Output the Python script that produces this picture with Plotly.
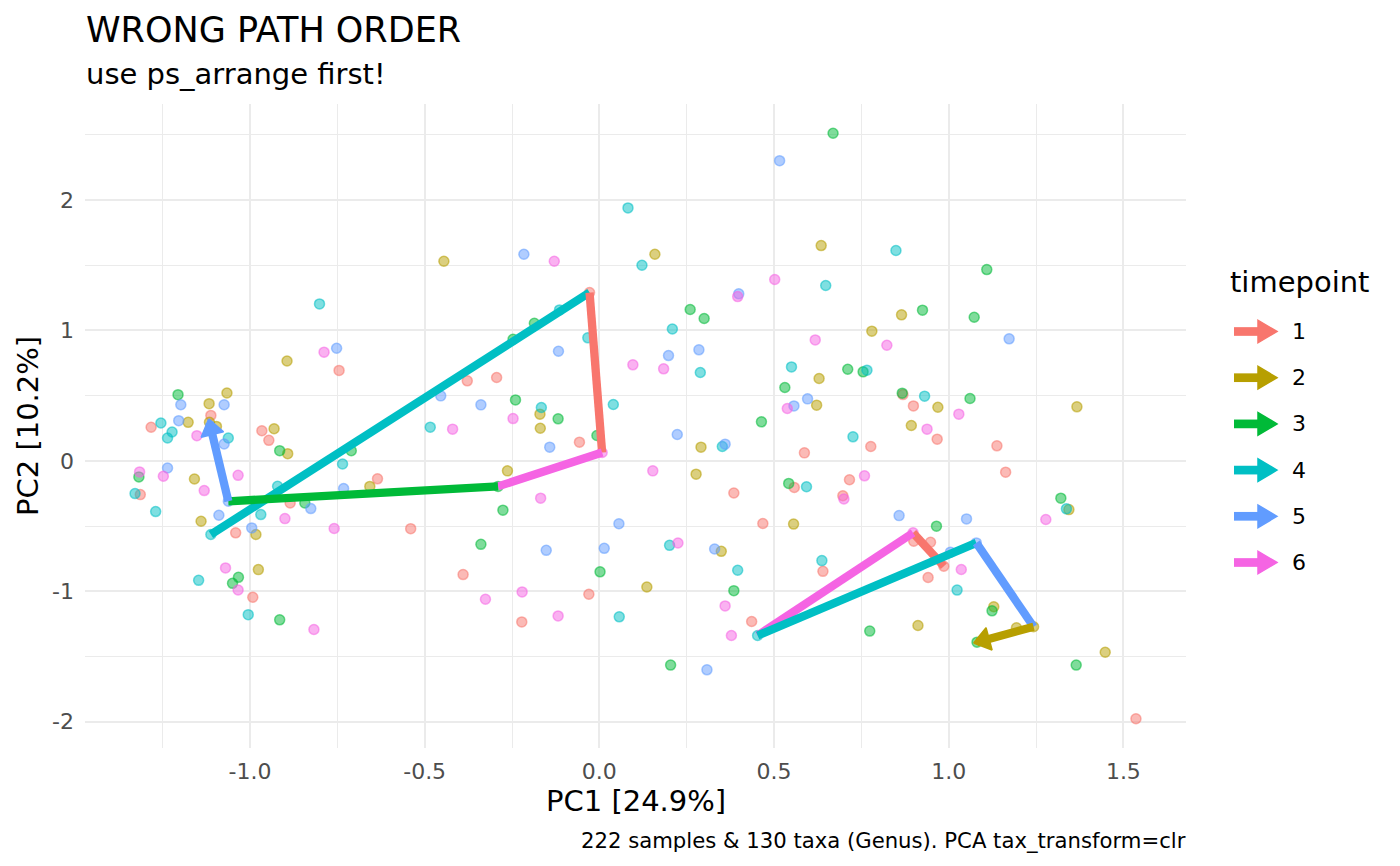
import plotly.graph_objects as go
import numpy as np

# ---------------- data ----------------
timepoints = [1, 2, 3, 4, 5, 6]
tp_colors = ["#F8766D", "#B79F00", "#00BA38", "#00BFC4", "#619CFF", "#F564E3"]

tp1_x = [-1.112, -1.283, -0.966, -0.946, -0.745, -1.314, -1.041, -0.885, -0.992, -0.635,
         -0.540, -0.378, -0.294, -0.057, -0.028, -0.390, -0.222, -0.030, 0.587, 0.777,
         0.869, 0.899, 0.967, 1.138, 0.558, 0.385, 0.468, 0.716, 0.697, 1.163,
         0.900, 0.948, 0.986, 0.941, 0.640, 0.436, 1.536]
tp1_y = [0.348, 0.257, 0.231, 0.157, 0.693, -0.259, -0.552, -0.323, -1.046, -0.138,
         -0.520, 0.613, 0.639, 0.143, 1.290, -0.872, -1.235, -1.023, 0.061, 0.110,
         0.508, 0.421, 0.166, 0.115, -0.204, -0.247, -0.480, -0.145, -0.268, -0.087,
         -0.616, -0.624, -0.808, -0.894, -0.847, -1.232, -1.977]

tp2_x = [-0.445, -0.894, -1.066, -1.117, -1.177, -1.116, -1.096, -0.931, -0.892, -1.159,
         -1.140, -0.983, -0.976, -0.657, -0.170, -0.169, -0.263, 0.159, 0.635, 0.865,
         0.780, 0.629, 0.622, 0.969, 1.367, 0.893, 0.291, 0.277, 0.556, 0.349,
         0.136, 1.129, 0.912, 1.194, 1.243, 1.344, 1.448]
tp2_y = [1.530, 0.765, 0.520, 0.438, 0.295, 0.295, 0.264, 0.246, 0.055, -0.139,
         -0.463, -0.565, -0.834, -0.196, 0.358, 0.250, -0.077, 1.584, 1.650, 1.119,
         0.994, 0.631, 0.427, 0.411, 0.414, 0.271, 0.105, -0.102, -0.485, -0.694,
         -0.967, -1.119, -1.262, -1.280, -1.272, -0.374, -1.467]

tp3_x = [-1.206, -0.915, -0.710, -1.318, -0.843, -1.033, -1.050, -0.915, -0.186, -0.247,
         -0.240, -0.118, -0.007, -0.290, -0.276, -0.339, 0.002, 0.669, 1.109, 0.260,
         0.300, 0.925, 1.073, 0.711, 0.755, 0.531, 0.867, 1.061, 0.464, 0.542,
         0.965, 1.321, 0.385, 1.124, 0.774, 1.365, 0.204, 1.081]
tp3_y = [0.507, 0.078, 0.077, -0.123, -0.323, -0.893, -0.939, -1.219, 1.055, 0.932,
         0.467, 0.322, 0.194, -0.196, -0.378, -0.640, -0.851, 2.511, 1.466, 1.160,
         1.091, 1.155, 1.101, 0.702, 0.682, 0.562, 0.519, 0.478, 0.299, -0.173,
         -0.501, -0.286, -0.995, -1.150, -1.305, -1.566, -1.566, -1.390]

tp4_x = [-0.801, 0.082, 0.122, -0.114, -0.033, 0.040, -0.166, -0.484, -1.255, -1.223,
         -1.236, -1.062, -1.329, -1.270, -1.112, -0.921, -0.969, -0.735, -1.147, -1.005,
         0.057, 0.849, 0.648, 0.209, 0.289, 0.550, 0.766, 0.931, 0.352, 0.726,
         0.593, 1.337, 0.201, 0.637, 0.396, 1.024, 0.453]
tp4_y = [1.203, 1.939, 1.499, 1.157, 0.943, 0.432, 0.409, 0.258, 0.290, 0.221,
         0.175, 0.175, -0.251, -0.389, -0.565, -0.195, -0.412, -0.024, -0.916, -1.179,
         -1.196, 1.612, 1.344, 1.011, 0.677, 0.720, 0.695, 0.496, 0.110, 0.184,
         -0.199, -0.368, -0.648, -0.765, -0.839, -0.991, -1.339]

tp5_x = [-0.216, -0.752, -0.117, -0.454, -0.339, -0.142, -1.198, -1.074, -1.204, -1.074,
         -1.236, -1.062, -1.089, -0.995, -0.826, -0.732, -0.152, 0.056, 0.014, 0.516,
         0.399, 1.173, 0.198, 0.285, 0.596, 0.557, 0.223, 0.360, 0.330, 0.858,
         1.051, 1.005, 1.079, 0.308]
tp5_y = [1.584, 0.863, 0.840, 0.498, 0.429, 0.105, 0.430, 0.430, 0.308, 0.129,
         -0.055, -0.310, -0.417, -0.514, -0.366, -0.213, -0.686, -0.482, -0.671, 2.301,
         1.280, 0.935, 0.807, 0.851, 0.475, 0.421, 0.202, 0.128, -0.676, -0.420,
         -0.445, -0.700, -0.629, -1.602]

tp6_x = [-0.129, -0.788, 0.096, -0.247, -0.420, -1.152, -1.316, -1.248, -1.131, -1.034,
         -0.900, -0.759, 0.008, -0.168, -1.070, -1.034, -0.817, -0.326, -0.221, -0.118,
         0.502, 0.396, 0.618, 0.823, 0.184, 0.538, 1.029, 0.938, 0.153, 0.700,
         0.759, 1.278, 0.225, 1.036, 0.360, 0.378, 0.898]
tp6_y = [1.530, 0.833, 0.736, 0.324, 0.243, 0.193, -0.085, -0.118, -0.228, -0.111,
         -0.443, -0.519, 0.064, -0.286, -0.821, -0.990, -1.293, -1.061, -1.005, -1.189,
         1.390, 1.259, 0.927, 0.886, 0.705, 0.401, 0.358, 0.243, -0.077, -0.293,
         -0.115, -0.450, -0.630, -0.833, -1.112, -1.339, -0.552]

# two subjects' paths, in (wrong) sample order
path_a_tp = [4, 1, 6, 3, 5, 2]
path_a_x = [-1.112, -0.028, 0.008, -0.290, -1.062, -1.116]
path_a_y = [-0.565, 1.290, 0.064, -0.196, -0.310, 0.295]
path_b_tp = [1, 6, 4, 5, 2, 3]
path_b_x = [0.986, 0.898, 0.453, 1.079, 1.243, 1.081]
path_b_y = [-0.808, -0.552, -1.339, -0.629, -1.272, -1.390]

x_tick_vals = [-1.0, -0.5, 0.0, 0.5, 1.0, 1.5]
x_tick_text = ["-1.0", "-0.5", "0.0", "0.5", "1.0", "1.5"]
y_tick_vals = [-2, -1, 0, 1, 2]
y_tick_text = ["-2", "-1", "0", "1", "2"]

title_text = "WRONG PATH ORDER"
subtitle_text = "use ps_arrange first!"
x_title = "PC1 [24.9%]"
y_title = "PC2 [10.2%]"
caption_text = "222 samples & 130 taxa (Genus). PCA tax_transform=clr"
legend_title = "timepoint"

# ---------------- geometry ----------------
W, H = 1400, 866
L, R, T, B = 85, 1186, 104, 748
FONT = "DejaVu Sans"

xs_all = tp1_x + tp2_x + tp3_x + tp4_x + tp5_x + tp6_x
ys_all = tp1_y + tp2_y + tp3_y + tp4_y + tp5_y + tp6_y
xmin, xmax = min(xs_all), max(xs_all)
ymin, ymax = min(ys_all), max(ys_all)
xr = [xmin - 0.05 * (xmax - xmin), xmax + 0.05 * (xmax - xmin)]
yr = [ymin - 0.05 * (ymax - ymin), ymax + 0.05 * (ymax - ymin)]
sx = (R - L) / (xr[1] - xr[0])
sy = (B - T) / (yr[1] - yr[0])


def pxx(px):
    return (px - L) / (R - L)


def pxy(py):
    return (B - py) / (B - T)


def rgba(hexc, a):
    h = hexc.lstrip("#")
    return "rgba(%d,%d,%d,%s)" % (int(h[0:2], 16), int(h[2:4], 16), int(h[4:6], 16), a)


LW = 8.3
fig = go.Figure()

pts = [(tp1_x, tp1_y), (tp2_x, tp2_y), (tp3_x, tp3_y), (tp4_x, tp4_y), (tp5_x, tp5_y), (tp6_x, tp6_y)]
for tp, col, (px_, py_) in zip(timepoints, tp_colors, pts):
    fig.add_trace(go.Scatter(
        x=px_, y=py_, mode="markers", showlegend=False, hoverinfo="skip",
        marker=dict(size=10, color=rgba(col, 0.5), line=dict(width=1.5, color=rgba(col, 0.55)))))


def add_path(tps, xs, ys):
    for i in range(len(xs) - 1):
        col = tp_colors[timepoints.index(tps[i])]
        fig.add_trace(go.Scatter(x=[xs[i], xs[i + 1]], y=[ys[i], ys[i + 1]], mode="lines",
                                 line=dict(color=col, width=LW), showlegend=False, hoverinfo="skip"))
    # arrow head at the end
    col = tp_colors[timepoints.index(tps[-2])]
    dxp = (xs[-1] - xs[-2]) * sx
    dyp = -(ys[-1] - ys[-2]) * sy
    n = np.hypot(dxp, dyp)
    ux, uy = dxp / n, dyp / n
    nx, ny = -uy, ux
    tip = (3.5 * ux, 3.5 * uy)
    base = (-12.5 * ux, -12.5 * uy)
    hw = 11.5
    c1 = (base[0] + hw * nx, base[1] + hw * ny)
    c2 = (base[0] - hw * nx, base[1] - hw * ny)
    poly = [tip, c1, c2, tip]
    fig.add_trace(go.Scatter(
        x=[xs[-1] + p[0] / sx for p in poly], y=[ys[-1] - p[1] / sy for p in poly],
        mode="lines", fill="toself", fillcolor=col, line=dict(color=col, width=1.5),
        showlegend=False, hoverinfo="skip"))


add_path(path_a_tp, path_a_x, path_a_y)
add_path(path_b_tp, path_b_x, path_b_y)

annotations = []
shapes = []


def txt(text, x, y, size, xanchor="left", angle=0, color="black"):
    annotations.append(dict(text=text, x=pxx(x), y=pxy(y), xref="paper", yref="paper",
                            xanchor=xanchor, yanchor="middle", showarrow=False, borderpad=0,
                            textangle=angle, font=dict(family=FONT, size=size, color=color)))


# titles
txt(title_text, 85, 30, 35)
txt(subtitle_text, 85, 74, 29)
txt(x_title, 636, 801, 29, xanchor="center")
txt(y_title, 28, 426, 29, xanchor="center", angle=-90)
txt(caption_text, 1187, 840, 21.2, xanchor="right")

# legend (drawn)
txt(legend_title, 1229, 282, 29)
for i, (tp, col) in enumerate(zip(timepoints, tp_colors)):
    yc = 331.5 + 46.2 * i
    txt(str(tp), 1291, yc, 22)
    shapes.append(dict(type="line", xref="paper", yref="paper", x0=pxx(1234), x1=pxx(1262),
                       y0=pxy(yc), y1=pxy(yc), line=dict(color=col, width=8.7), layer="above"))
    path = "M %f,%f L %f,%f L %f,%f Z" % (pxx(1277), pxy(yc), pxx(1258), pxy(yc - 11.3),
                                          pxx(1258), pxy(yc + 11.3))
    shapes.append(dict(type="path", xref="paper", yref="paper", path=path,
                       fillcolor=col, line=dict(color=col, width=1.5), layer="above"))

axis_common = dict(showline=False, zeroline=False, ticks="", gridcolor="#EBEBEB", gridwidth=2,
                   tickfont=dict(family=FONT, size=22, color="#4D4D4D"))
fig.update_layout(
    width=W, height=H, margin=dict(l=L, r=W - R, t=T, b=H - B, autoexpand=False),
    paper_bgcolor="white", plot_bgcolor="white", showlegend=False,
    xaxis=dict(range=xr, tickvals=x_tick_vals, ticktext=x_tick_text, ticklabelstandoff=8,
               minor=dict(dtick=0.25, tick0=0, showgrid=True, gridcolor="#EBEBEB", gridwidth=1),
               **axis_common),
    yaxis=dict(range=yr, tickvals=y_tick_vals, ticktext=y_tick_text, ticklabelstandoff=10,
               minor=dict(dtick=0.5, tick0=0, showgrid=True, gridcolor="#EBEBEB", gridwidth=1),
               **axis_common),
    annotations=annotations, shapes=shapes,
)

fig.write_html("out.html", config=dict(displayModeBar=False),
               post_script="document.body.style.margin='0px';document.body.style.overflow='hidden';")
